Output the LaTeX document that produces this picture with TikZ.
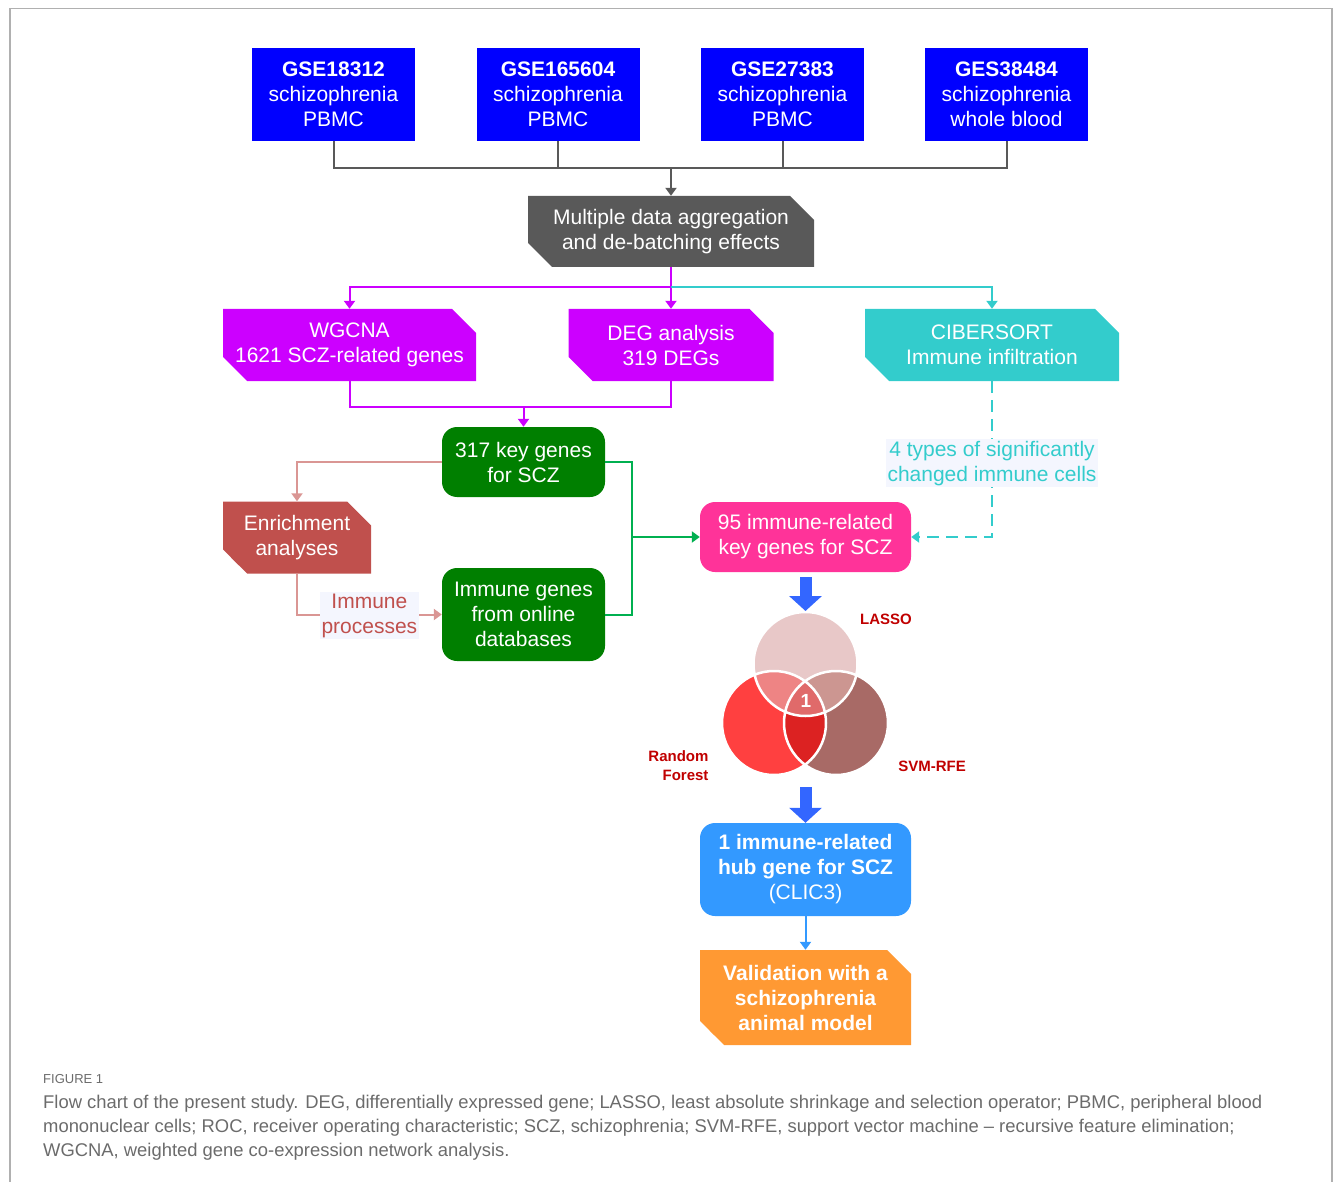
\documentclass[tikz,border=0pt]{standalone}
\usepackage{fontspec}
\setmainfont{Liberation Sans}
\usetikzlibrary{arrows.meta,shapes.misc}

\definecolor{gseblue}{HTML}{0000FF}
\definecolor{agggray}{HTML}{595959}
\definecolor{wgcnamag}{HTML}{CC00FF}
\definecolor{cibcyan}{HTML}{33CCCC}
\definecolor{keygreen}{HTML}{007F00}
\definecolor{linkgreen}{HTML}{00B050}
\definecolor{immpink}{HTML}{FF3399}
\definecolor{enrred}{HTML}{C0504D}
\definecolor{enrlink}{HTML}{DA9694}
\definecolor{arrowblue}{HTML}{3366FF}
\definecolor{hubblue}{HTML}{3399FF}
\definecolor{valorange}{HTML}{FF9933}
\definecolor{lblback}{HTML}{F4F6FE}
\definecolor{vtop}{HTML}{E8C8C8}
\definecolor{vleft}{HTML}{FF4040}
\definecolor{vright}{HTML}{A86A66}
\definecolor{vtl}{HTML}{EE8484}
\definecolor{vtr}{HTML}{CC9691}
\definecolor{vlr}{HTML}{DC2222}
\definecolor{vmid}{HTML}{E06A6A}
\definecolor{vtext}{HTML}{C00000}
\definecolor{captgray}{HTML}{6B6B6B}
\definecolor{framegray}{HTML}{B0B0B0}

\tikzset{
  box/.style={text=white, align=center, inner sep=0pt,
    font=\fontsize{21}{25}\selectfont},
  gse/.style={box, fill=gseblue, minimum width=163pt, minimum height=93pt},
  snip/.style={box, chamfered rectangle,
    chamfered rectangle corners={north east,south west},
    chamfered rectangle xsep=12pt, chamfered rectangle ysep=12pt},
  rbox/.style={box, rounded corners=15pt},
  link/.style={line width=2pt},
  tip/.style={-{Triangle[length=8pt,width=11pt]}},
  bigarrow/.style={arrowblue, line width=12pt, -{Triangle[length=15pt,width=32pt]}},
  lbl/.style={fill=lblback, inner sep=2pt, align=center,
    font=\fontsize{21}{25}\selectfont},
  vlabel/.style={text=vtext, font=\fontsize{15}{19}\selectfont\bfseries},
}

\begin{document}
\begin{tikzpicture}[x=1pt,y=-1pt]
  \useasboundingbox (0,0) rectangle (1333,1182);
  \draw[framegray, line width=1.5pt] (10,1182) |- (1332,8.5) -- (1332,1182);

  % data sets
  \node[gse] (g1) at (333.5,94.5) {{\bfseries GSE18312}\\schizophrenia\\PBMC};
  \node[gse] (g2) at (558,94.5) {{\bfseries GSE165604}\\schizophrenia\\PBMC};
  \node[gse] (g3) at (782.5,94.5) {{\bfseries GSE27383}\\schizophrenia\\PBMC};
  \node[gse] (g4) at (1006.5,94.5) {{\bfseries GES38484}\\schizophrenia\\whole blood};

  \node[snip, fill=agggray, minimum width=286pt, minimum height=71pt] (agg) at (671,231.5)
    {Multiple data aggregation\\and de-batching effects};

  \coordinate (bus) at (671,168);
  \draw[link, agggray] (g1.south) |- (bus);
  \draw[link, agggray] (g4.south) |- (bus);
  \draw[link, agggray] (g2.south) -- (g2.south |- bus);
  \draw[link, agggray] (g3.south) -- (g3.south |- bus);
  \draw[link, agggray, tip] (bus) -- (agg.north);

  % analyses
  \node[snip, fill=wgcnamag, minimum width=253pt, minimum height=72pt] (wgcna) at (349.5,345)
    {WGCNA\\1621 SCZ-related genes};
  \node[snip, fill=wgcnamag, minimum width=205pt, minimum height=72pt] (deg) at (671,345)
    {DEG analysis\\319 DEGs};
  \node[snip, fill=cibcyan, minimum width=254pt, minimum height=72pt] (cib) at (992,345)
    {CIBERSORT\\Immune infiltration};

  \coordinate (split) at (671,287);
  \draw[link, wgcnamag] (agg.south) -- (split);
  \draw[link, wgcnamag, tip] (split) -| (wgcna.north);
  \draw[link, wgcnamag, tip] (split) -- (deg.north);
  \draw[link, cibcyan, tip] (split) -| (cib.north);

  % key genes
  \node[rbox, fill=keygreen, minimum width=163pt, minimum height=70pt] (key) at (523.5,462)
    {317 key genes\\for SCZ};
  \node[rbox, fill=keygreen, minimum width=163pt, minimum height=93pt] (imm) at (523.5,614.5)
    {Immune genes\\from online\\databases};
  \node[snip, fill=enrred, minimum width=148pt, minimum height=72pt] (enr) at (297,537.5)
    {Enrichment\\analyses};
  \node[rbox, fill=immpink, minimum width=211pt, minimum height=70pt] (pink) at (805.5,537)
    {95 immune-related\\key genes for SCZ};

  \coordinate (merge) at (523.5,407);
  \draw[link, wgcnamag] (wgcna.south) |- (deg.south |- merge) -- (deg.south);
  \draw[link, wgcnamag, tip] (merge) -- (key.north);

  \draw[link, enrlink, tip] (key.west) -| (enr.north);
  \draw[link, enrlink, tip] (enr.south) |- (imm.west)
    node[lbl, pos=0.75, text=enrred, yshift=-1pt] {Immune\\processes};

  \coordinate (jn) at (632,537);
  \draw[link, linkgreen] (key.east) -| (jn) |- (imm.east);
  \draw[link, linkgreen, tip] (jn) -- (pink.west);

  \draw[link, cibcyan, dash pattern=on 12pt off 7pt, tip] (cib.south) |- (pink.east)
    node[lbl, pos=0.25, text=cibcyan, yshift=-4pt] {4 types of significantly\\changed immune cells};

  % venn
  \coordinate (lasso) at (805.5,664);
  \coordinate (rf) at (774,723);
  \coordinate (svm) at (836,723);
  \fill[vleft] (rf) circle[radius=52pt];
  \fill[vright] (svm) circle[radius=52pt];
  \begin{scope}
    \clip (rf) circle[radius=52pt];
    \fill[vlr] (svm) circle[radius=52pt];
  \end{scope}
  \fill[vtop] (lasso) circle[radius=52pt];
  \begin{scope}
    \clip (lasso) circle[radius=52pt];
    \fill[vtl] (rf) circle[radius=52pt];
    \fill[vtr] (svm) circle[radius=52pt];
    \clip (rf) circle[radius=52pt];
    \fill[vmid] (svm) circle[radius=52pt];
  \end{scope}
  \draw[white, line width=2.5pt] (rf) circle[radius=52pt] (svm) circle[radius=52pt]
    (lasso) circle[radius=52pt];
  \node[text=white, font=\fontsize{19}{19}\selectfont\bfseries] (one) at (806,701) {1};

  \node[vlabel] (lassolbl) at (886,619) {LASSO};
  \node[vlabel, align=right, anchor=east] (rflbl) at (712,766) {Random\\Forest};
  \node[vlabel] (svmlbl) at (932,766) {SVM-RFE};

  \coordinate (venntop) at (805.5,611);
  \coordinate (vennbot) at (805.5,787);

  % hub gene
  \node[rbox, fill=hubblue, minimum width=211pt, minimum height=93pt] (hub) at (805.5,869.5)
    {{\bfseries 1 immune-related}\\{\bfseries hub gene for SCZ}\\(CLIC3)};
  \node[snip, fill=valorange, minimum width=211pt, minimum height=95pt, font=\fontsize{21}{25}\selectfont\bfseries] (val) at (805.5,997.5)
    {Validation with a\\schizophrenia\\animal model};

  \draw[bigarrow] ([yshift=-5pt]pink.south) -- (venntop);
  \draw[bigarrow] (vennbot) -- (hub.north);
  \draw[link, hubblue, tip] (hub.south) -- (val.north);

  % caption
  \node[anchor=north west, inner sep=0pt, text=captgray, font=\fontsize{13}{13}\selectfont] (fig) at (43,1074) {FIGURE 1};
  \node[anchor=north west, inner sep=0pt, align=left, text=captgray, font=\fontsize{18.4}{24}\selectfont] (capt) at (43,1095)
    {Flow chart of the present study. DEG, differentially expressed gene; LASSO, least absolute shrinkage and selection operator; PBMC, peripheral blood\\
     mononuclear cells; ROC, receiver operating characteristic; SCZ, schizophrenia; SVM-RFE, support vector machine -- recursive feature elimination;\\
     WGCNA, weighted gene co-expression network analysis.};
\end{tikzpicture}
\end{document}
